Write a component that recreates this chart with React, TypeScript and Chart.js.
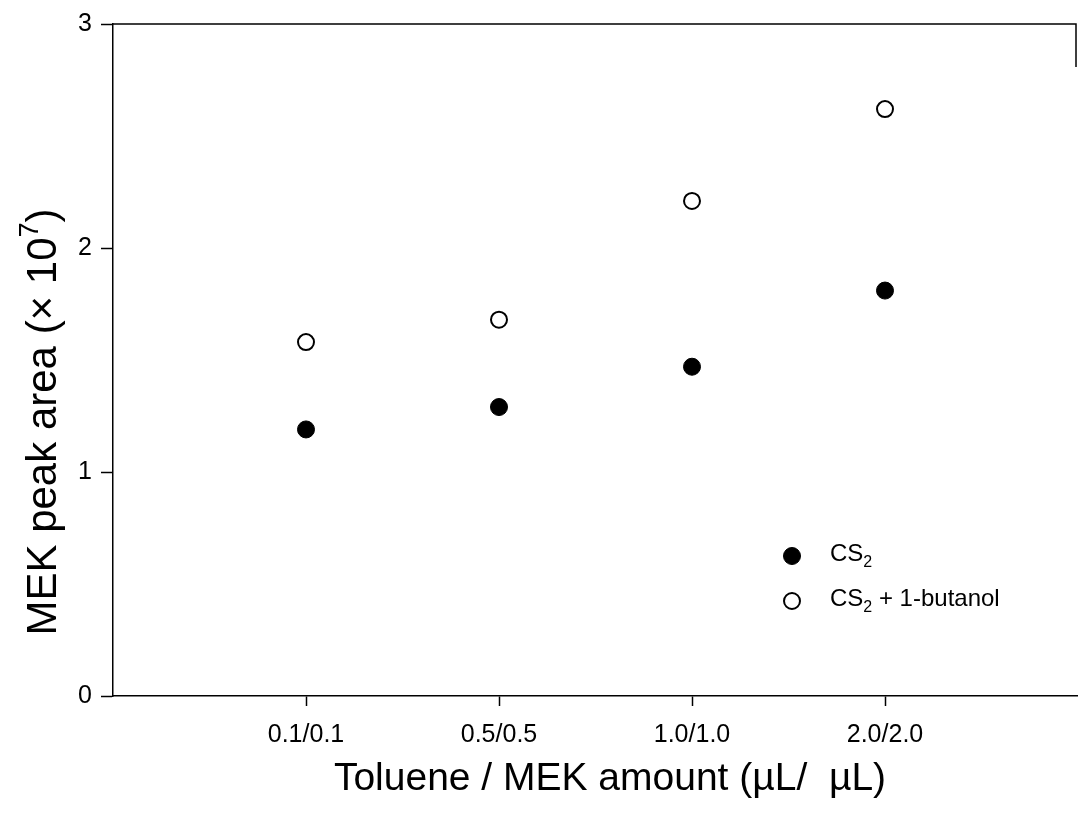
import React, { useEffect, useRef } from "react";
import { Chart, registerables } from "chart.js";

Chart.register(...registerables);

const categories = ["0.1/0.1", "0.5/0.5", "1.0/1.0", "2.0/2.0"];
const cs2Values = [1.19, 1.29, 1.47, 1.81];
const cs2ButanolValues = [1.58, 1.68, 2.21, 2.62];
const yTicks = [0, 1, 2, 3];
const seriesNames = ["CS2", "CS2 + 1-butanol"];

const FONT = "'Liberation Sans', Arial, sans-serif";

function drawSubText(ctx: CanvasRenderingContext2D, x: number, y: number, base: string, sub: string, rest: string, size: number) {
  ctx.font = `${size}px ${FONT}`;
  ctx.textBaseline = "middle";
  ctx.textAlign = "left";
  ctx.fillText(base, x, y);
  let w = ctx.measureText(base).width;
  ctx.font = `${Math.round(size * 0.66)}px ${FONT}`;
  ctx.fillText(sub, x + w, y + size * 0.35);
  w += ctx.measureText(sub).width;
  ctx.font = `${size}px ${FONT}`;
  ctx.fillText(rest, x + w, y);
}

const decorPlugin = {
  id: "decor",
  afterDraw(chart: any) {
    const ctx = chart.ctx as CanvasRenderingContext2D;
    const a = chart.chartArea;
    ctx.save();
    ctx.fillStyle = "#000";
    ctx.strokeStyle = "#000";
    // top border and partial right border
    ctx.lineWidth = 1.5;
    ctx.beginPath();
    ctx.moveTo(a.left, a.top);
    ctx.lineTo(a.right - 2, a.top);
    ctx.lineTo(a.right - 2, a.top + 43);
    ctx.stroke();

    // x title
    ctx.font = `39px ${FONT}`;
    ctx.textAlign = "center";
    ctx.textBaseline = "alphabetic";
    ctx.fillText("Toluene / MEK amount (\u00b5L/  \u00b5L)", 610, 790);

    // y title rotated with superscript
    ctx.save();
    ctx.translate(56, 422);
    ctx.rotate(-Math.PI / 2);
    const p1 = "MEK peak area (\u00d7 10";
    const p2 = "7";
    const p3 = ")";
    ctx.font = `42px ${FONT}`;
    const w1 = ctx.measureText(p1).width;
    const w3 = ctx.measureText(p3).width;
    ctx.font = `27px ${FONT}`;
    const w2 = ctx.measureText(p2).width;
    const total = w1 + w2 + w3;
    let x = -total / 2;
    ctx.textAlign = "left";
    ctx.textBaseline = "alphabetic";
    ctx.font = `42px ${FONT}`;
    ctx.fillText(p1, x, 0);
    x += w1;
    ctx.font = `27px ${FONT}`;
    ctx.fillText(p2, x, -18);
    x += w2;
    ctx.font = `42px ${FONT}`;
    ctx.fillText(p3, x, 0);
    ctx.restore();

    // legend
    const ds = chart.data.datasets;
    const lx = 792;
    const ly = [556, 601];
    ds.forEach((d: any, i: number) => {
      ctx.beginPath();
      ctx.arc(lx, ly[i], d.pointRadius, 0, Math.PI * 2);
      ctx.fillStyle = d.pointBackgroundColor;
      ctx.fill();
      ctx.lineWidth = d.pointBorderWidth;
      ctx.strokeStyle = d.pointBorderColor;
      ctx.stroke();
      ctx.fillStyle = "#000";
      const name = seriesNames[i];
      drawSubText(ctx, 830, ly[i] - 2, name.slice(0, 2), name.slice(2, 3), name.slice(3), 24);
    });
    ctx.restore();
  },
};

export default function App() {
  const ref = useRef<HTMLCanvasElement>(null);
  useEffect(() => {
    if (!ref.current) return;
    const chart = new Chart(ref.current, {
      type: "scatter",
      data: {
        datasets: [
          {
            label: seriesNames[0],
            data: cs2Values.map((v, i) => ({ x: i + 1, y: v })),
            pointRadius: 8.5,
            pointBackgroundColor: "#000",
            pointBorderColor: "#000",
            pointBorderWidth: 1,
            showLine: false,
          },
          {
            label: seriesNames[1],
            data: cs2ButanolValues.map((v, i) => ({ x: i + 1, y: v })),
            pointRadius: 8,
            pointBackgroundColor: "#fff",
            pointBorderColor: "#000",
            pointBorderWidth: 2,
            showLine: false,
          },
        ],
      },
      options: {
        animation: false,
        responsive: false,
        layout: { autoPadding: false, padding: { top: 22, right: 0, left: 0, bottom: 0 } },
        plugins: { legend: { display: false }, tooltip: { enabled: false } },
        scales: {
          x: {
            type: "linear",
            min: 0,
            max: categories.length + 1,
            afterBuildTicks: (s: any) => {
              s.ticks = categories.map((_, i) => ({ value: i + 1 }));
            },
            afterFit: (s: any) => {
              s.height = 129;
            },
            ticks: {
              callback: (v: any) => categories[Math.round(Number(v)) - 1] ?? "",
              font: { family: FONT, size: 25 },
              color: "#000",
              padding: 14,
              maxRotation: 0,
              autoSkip: false,
            },
            grid: { drawOnChartArea: false, tickLength: 10, color: "#000", tickWidth: 1.5 },
            border: { color: "#000", width: 1.5 },
          },
          y: {
            type: "linear",
            min: 0,
            max: 3,
            afterBuildTicks: (s: any) => {
              s.ticks = yTicks.map((v) => ({ value: v }));
            },
            afterFit: (s: any) => {
              s.width = 113;
            },
            ticks: {
              font: { family: FONT, size: 25 },
              color: "#000",
              padding: 9,
            },
            grid: { drawOnChartArea: false, tickLength: 12, color: "#000", tickWidth: 1.5 },
            border: { color: "#000", width: 1.5 },
          },
        },
      },
      plugins: [decorPlugin],
    });
    return () => chart.destroy();
  }, []);
  return (
    <div style={{ position: "fixed", left: 0, top: 0, width: 1078, height: 825, background: "#fff" }}>
      <canvas ref={ref} width={1078} height={825} style={{ width: 1078, height: 825 }} />
    </div>
  );
}
